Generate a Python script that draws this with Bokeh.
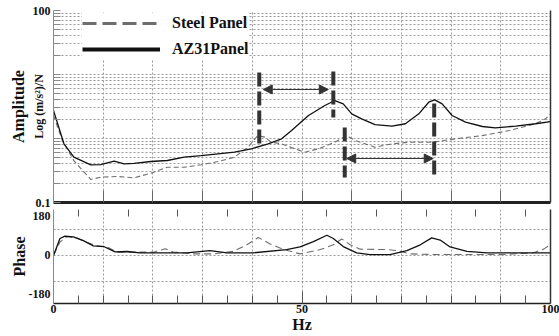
import math
from bokeh.plotting import figure
from bokeh.layouts import column
from bokeh.models import (Range1d, LinearAxis, LogAxis, FixedTicker, Title,
                          Legend, LegendItem, Arrow, NormalHead, ColumnDataSource,
                          CustomJSTickFormatter)
from bokeh.embed import file_html
from bokeh.resources import INLINE

# ---------------- data ----------------
az31_hz = [0, 2.1, 4.1, 7.5, 9.5, 12.2, 14.2, 16.2, 19.6, 22.9, 26.3, 29.7, 33.1, 36.4, 39.8,
           43.2, 45.9, 47.9, 51.3, 54.6, 56.6, 58.3, 60.0, 62.0, 64.7, 68.1, 70.8, 73.5, 75.5,
           76.7, 78.2, 80.2, 82.9, 86.3, 88.9, 93.0, 97.0, 100]
az31_amp = [2.74, 0.826, 0.51, 0.388, 0.39, 0.442, 0.40, 0.41, 0.437, 0.453, 0.51, 0.542, 0.577,
            0.611, 0.69, 0.826, 0.99, 1.33, 2.29, 3.28, 3.92, 3.48, 2.43, 2.03, 1.65, 1.56, 1.70,
            2.43, 3.69, 4.02, 3.48, 2.29, 1.80, 1.54, 1.47, 1.56, 1.70, 1.84]

steel_hz = [0, 1.8, 4.1, 7.5, 9.5, 12.9, 16.2, 19.6, 22.9, 26.3, 29.7, 33.1, 36.4, 39.1, 41.1,
            42.5, 43.8, 45.9, 48.5, 50.6, 53.3, 56.6, 59.0, 60.7, 64.7, 68.1, 71.5, 76.2, 80.9,
            86.3, 91.7, 97.0, 99.0, 100]
steel_amp = [2.29, 0.93, 0.45, 0.229, 0.249, 0.255, 0.243, 0.287, 0.356, 0.356, 0.388, 0.437,
             0.51, 0.731, 1.11, 1.05, 0.875, 0.826, 0.69, 0.611, 0.69, 0.875, 1.11, 0.93, 0.731,
             0.826, 0.875, 0.875, 0.99, 1.11, 1.33, 1.70, 2.03, 2.43]

az31_phase_hz = [0, 1.3, 2.3, 4.0, 6.0, 8.0, 10.1, 12.4, 14.8, 17.4, 20.1, 26.8, 31.5, 34.9, 40.2,
                 46.9, 49.6, 52.3, 55.0, 56.3, 58.3, 61.0, 63.7, 67.7, 71.1, 73.8, 76.1, 77.8,
                 79.8, 83.2, 87.2, 93.9, 100]
az31_phase = [0, 78, 89, 86, 68, 44, 41, 16, 18, 12, 12, 12, 22, 12, 12, 27, 39, 64, 93, 78, 41,
              12, 4, 4, 22, 49, 81, 71, 39, 19, 12, 12, 12]

steel_phase_hz = [0, 1.3, 2.7, 4.7, 6.7, 8.7, 10.7, 12.7, 15.4, 20.1, 22.5, 24.1, 28.2, 32.2,
                  36.2, 38.9, 41.2, 43.6, 46.3, 49.6, 53.7, 56.3, 58.0, 59.7, 61.7, 67.1, 69.1,
                  71.8, 77.1, 83.8, 90.6, 96.6, 98.6, 100]
steel_phase = [0, 62, 86, 80, 61, 44, 40, 15, 15, 15, 31, 16, 7, 7, 19, 49, 83, 53, 27, 7, 27,
               49, 76, 49, 29, 27, 22, 7, 4, 4, 4, 12, 29, 49]

# resonance markers (Hz, upper / lower amplitude of the marker bar)
marker_hz = [41.4, 56.3, 58.6, 76.6]
marker_top = [10.7, 11.1, 1.49, 3.52]
marker_bottom = [0.83, 2.13, 0.246, 0.264]
# frequency shift arrows
arrow_from = [42.2, 59.0]
arrow_to = [55.3, 76.4]
arrow_level = [5.83, 0.487]

amp_major_ticks = [0.1, 100]
amp_minor_ticks = [0.2, 0.3, 0.4, 0.5, 0.6, 0.7, 0.8, 0.9, 1, 2, 3, 4, 5, 6, 7, 8, 9,
                   10, 20, 30, 40, 50, 60, 70, 80, 90]
hz_label_ticks = [0, 50, 100]
hz_ten_ticks = [0, 10, 20, 30, 40, 50, 60, 70, 80, 90, 100]
hz_five_ticks = [5, 10, 15, 20, 25, 30, 35, 40, 45, 55, 60, 65, 70, 75, 80, 85, 90, 95]
hz_odd_five_ticks = [5, 15, 25, 35, 45, 55, 65, 75, 85, 95]
phase_ticks = [-180, 0, 180]
phase_grid = [-120, 0, 120]
series_labels = ["Steel Panel", "AZ31Panel"]

FONT = "Liberation Serif"
GRID = "#9a9a9a"
W = 559

# ---------------- amplitude panel ----------------
p1 = figure(width=W, height=209, x_range=Range1d(0, 100), y_range=Range1d(0.1, 100),
            y_axis_type="log", output_backend="svg", toolbar_location=None,
            min_border_left=53, min_border_right=9, min_border_top=10, min_border_bottom=7)
p1.outline_line_color = None
p1.background_fill_color = "white"
p1.border_fill_color = "white"

amp_ticker = FixedTicker(ticks=amp_major_ticks, minor_ticks=amp_minor_ticks)
ya = p1.yaxis[0]
ya.ticker = amp_ticker
ya.formatter = CustomJSTickFormatter(code="return tick.toString()")
ya.major_tick_in = 7
ya.major_tick_out = 0
ya.minor_tick_in = 7
ya.minor_tick_out = 0
ya.axis_line_color = "#8a8a8a"
ya.major_tick_line_color = "#8a8a8a"
ya.minor_tick_line_color = "#8a8a8a"
ya.major_label_text_font = FONT
ya.major_label_text_font_style = "bold"
ya.major_label_text_font_size = "12px"
ya.major_label_text_color = "#111"
ya.major_label_standoff = 3
ya.axis_label = "Log (m/s²)/N"
ya.axis_label_text_font = FONT
ya.axis_label_text_font_style = "bold"
ya.axis_label_text_font_size = "12px"
ya.axis_label_text_color = "#111"
ya.axis_label_standoff = -16

xa = p1.xaxis[0]
xa.ticker = FixedTicker(ticks=[], minor_ticks=hz_ten_ticks)
xa.major_tick_in = 0
xa.major_tick_out = 0
xa.minor_tick_in = 12
xa.minor_tick_out = 0
xa.minor_tick_line_color = "#666"
xa.major_label_standoff = 0
xa.axis_line_width = 3
xa.axis_line_color = "#222"

p1.add_layout(LogAxis(ticker=FixedTicker(ticks=[]), major_tick_in=0, major_tick_out=0,
                      minor_tick_in=0, minor_tick_out=0, major_label_standoff=0,
                      axis_line_color="#333", axis_line_width=1.5), "right")

p1.add_layout(Title(text="Amplitude", align="center", offset=20, standoff=3,
                    text_font=FONT, text_font_style="bold", text_font_size="16px",
                    text_color="#111"), "left")

p1.xgrid.ticker = FixedTicker(ticks=hz_ten_ticks)
p1.xgrid.grid_line_color = GRID
p1.xgrid.grid_line_dash = "2 2"
p1.ygrid.ticker = amp_ticker
p1.ygrid.grid_line_color = GRID
p1.ygrid.grid_line_dash = "2 2"
p1.ygrid.minor_grid_line_color = GRID
p1.ygrid.minor_grid_line_dash = "2 2"

p1.line(steel_hz, steel_amp, line_color="#6e6e6e", line_width=1.1, line_dash="5 3")
p1.line(az31_hz, az31_amp, line_color="#111", line_width=1.3)

p1.segment(x0=marker_hz, y0=marker_top, x1=marker_hz, y1=marker_bottom,
           line_color="#333", line_width=4, line_dash="14 5")
arrow_src = ColumnDataSource(dict(x0=arrow_from, x1=arrow_to, y=arrow_level))
p1.add_layout(Arrow(x_start="x0", y_start="y", x_end="x1", y_end="y", source=arrow_src,
                    line_color="#333", line_width=1,
                    start=NormalHead(size=9, fill_color="#333", line_color="#333"),
                    end=NormalHead(size=9, fill_color="#333", line_color="#333")))

nan = float("nan")
leg_steel = p1.line([nan], [nan], line_color="#6e6e6e", line_width=3, line_dash="14 6")
leg_az = p1.line([nan], [nan], line_color="#111", line_width=4)
legend = Legend(items=[LegendItem(label=series_labels[0], renderers=[leg_steel]),
                       LegendItem(label=series_labels[1], renderers=[leg_az])],
                location=(29, 143), padding=2, margin=0, spacing=6, glyph_width=78,
                glyph_height=20, label_height=20, label_standoff=12,
                border_line_color=None, background_fill_color="white", background_fill_alpha=1,
                label_text_font=FONT, label_text_font_style="bold",
                label_text_font_size="16px", label_text_color="#111")
p1.add_layout(legend)

# ---------------- phase panel ----------------
p2 = figure(width=W, height=127, x_range=p1.x_range, y_range=Range1d(-222, 212),
            output_backend="svg", toolbar_location=None,
            min_border_left=53, min_border_right=9, min_border_top=0, min_border_bottom=33)
p2.outline_line_color = None
p2.border_fill_color = "white"

pa = p2.yaxis[0]
pa.ticker = FixedTicker(ticks=phase_ticks)
pa.formatter = CustomJSTickFormatter(code="return tick.toString()")
pa.major_tick_in = 0
pa.major_tick_out = 0
pa.minor_tick_in = 0
pa.minor_tick_out = 0
pa.axis_line_color = "#8a8a8a"
pa.major_label_text_font = FONT
pa.major_label_text_font_style = "bold"
pa.major_label_text_font_size = "12px"
pa.major_label_text_color = "#111"
pa.major_label_standoff = 3
pa.axis_label = "Phase"
pa.axis_label_text_font = FONT
pa.axis_label_text_font_style = "bold"
pa.axis_label_text_font_size = "16px"
pa.axis_label_text_color = "#111"
pa.axis_label_standoff = -2

bx = p2.xaxis[0]
bx.ticker = FixedTicker(ticks=hz_label_ticks, minor_ticks=hz_five_ticks)
bx.formatter = CustomJSTickFormatter(code="return tick.toFixed(0)")
bx.major_tick_in = 12
bx.major_tick_out = 0
bx.minor_tick_in = 8
bx.minor_tick_out = 0
bx.major_tick_line_color = "#555"
bx.minor_tick_line_color = "#555"
bx.axis_line_color = "#222"
bx.axis_line_width = 1.5
bx.major_label_text_font = FONT
bx.major_label_text_font_style = "bold"
bx.major_label_text_font_size = "12px"
bx.major_label_text_color = "#111"
bx.major_label_standoff = 1
bx.axis_label = "Hz"
bx.axis_label_text_font = FONT
bx.axis_label_text_font_style = "bold"
bx.axis_label_text_font_size = "16px"
bx.axis_label_text_color = "#111"
bx.axis_label_standoff = 0

p2.add_layout(LinearAxis(ticker=FixedTicker(ticks=[], minor_ticks=hz_odd_five_ticks),
                         major_label_standoff=0, major_tick_in=0, major_tick_out=0,
                         minor_tick_in=7, minor_tick_out=0, minor_tick_line_color="#555",
                         axis_line_color=None), "above")
p2.add_layout(LinearAxis(ticker=FixedTicker(ticks=[]), major_tick_in=0, major_tick_out=0,
                         minor_tick_in=0, minor_tick_out=0, major_label_standoff=0,
                         axis_line_color="#333", axis_line_width=1.5), "right")

p2.xgrid.ticker = FixedTicker(ticks=hz_ten_ticks)
p2.xgrid.grid_line_color = GRID
p2.xgrid.grid_line_dash = "2 2"
p2.ygrid.ticker = FixedTicker(ticks=phase_grid)
p2.ygrid.grid_line_color = GRID
p2.ygrid.grid_line_dash = "2 2"

p2.line(steel_phase_hz, steel_phase, line_color="#6e6e6e", line_width=1.1, line_dash="7 4")
p2.line(az31_phase_hz, az31_phase, line_color="#111", line_width=1.3)

layout = column(p1, p2, spacing=0)
open("out.html", "w").write(file_html(layout, INLINE))
